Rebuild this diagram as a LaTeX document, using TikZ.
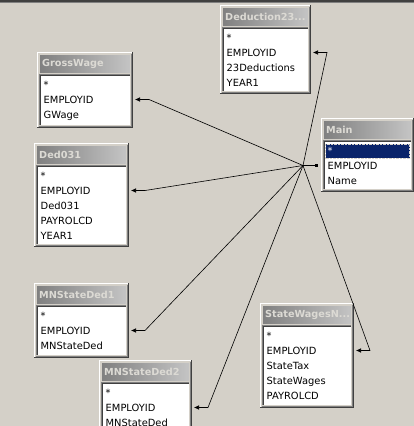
\documentclass[tikz,border=0pt]{standalone}
\usepackage{fontspec}
\usepackage{tikz}
\usetikzlibrary{arrows.meta, calc}
\newfontfamily\dbfont{DejaVu Sans}
\definecolor{canvas}{HTML}{D4D0C8}
\definecolor{windark}{HTML}{404040}
\definecolor{winmid}{HTML}{808080}
\definecolor{titleL}{HTML}{808080}
\definecolor{titleR}{HTML}{C4C4C4}
\definecolor{titleink}{HTML}{DCDAD4}
\definecolor{selbg}{HTML}{0A246A}
\tikzset{
  tbltitle/.style={anchor=west, inner sep=0pt, text=titleink,
    font=\dbfont\bfseries\fontsize{9.7}{11}\selectfont},
  tblrow/.style={anchor=west, inner sep=0pt, text height=7.4pt, text depth=2pt,
    font=\dbfont\fontsize{9.9}{11}\selectfont},
  joinln/.style={draw=black, line width=0.6pt},
  joinarr/.style={joinln, -{Latex[length=5pt, width=4.6pt]}},
  joinsq/.style={joinln, -{Square[length=2.6pt, width=2.6pt]}}
}
% table: id, x, y, width, height, title, fields, selected row
\newcommand{\dbtable}[8]{%
  \begin{scope}[shift={(#2,#3)}]
    \fill[canvas] (0,0) rectangle (#4,#5);
    \draw[white] (0.5,#5-0.5) -- (0.5,0.5) -- (#4-0.5,0.5);
    \draw[winmid] (1.5,#5-1.5) -- (#4-1.5,#5-1.5) -- (#4-1.5,1.5);
    \draw[windark] (0,#5-0.5) -- (#4-0.5,#5-0.5) -- (#4-0.5,0);
    \shade[left color=titleL, right color=titleR] (3,3) rectangle (#4-3,20);
    \node[tbltitle] (#1) at (5,11.5) {#6};
    \fill[white] (2,22) rectangle (#4-3,#5-3);
    \draw[winmid] (2.5,#5-3) -- (2.5,22.5) -- (#4-3,22.5);
    \draw[windark] (3.5,#5-3) -- (3.5,23.5) -- (#4-3,23.5);
    \ifnum#8>0
      \fill[selbg] (4.5,18+15*#8-7) rectangle (#4-4.5,18+15*#8+7);
      \draw[densely dotted, canvas] (4.5,18+15*#8-7) rectangle (#4-4.5,18+15*#8+7);
    \fi
    \foreach \r [count=\i] in {#7} {
      \coordinate (#1-\i-l) at (0,17.5+15*\i);
      \coordinate (#1-\i-r) at (#4,17.5+15*\i);
      \ifnum\i=#8\relax \def\rowink{white}\else \def\rowink{black}\fi
      \node[tblrow, text=\rowink] (#1-\i) at (6.5,18.5+15*\i) {\r};
    }
  \end{scope}}

\begin{document}
\begin{tikzpicture}[x=1pt, y=-1pt]
\useasboundingbox (0,0) rectangle (414,426);
\clip (0,0) rectangle (414,426);
\fill[canvas] (0,0) rectangle (414,426);
\fill[windark] (0,0) rectangle (414,1.5);
\fill[winmid] (0,1.5) rectangle (414,3);

% tables
\dbtable{dd}{220}{5}{91}{89}{Deduction23...}{*, EMPLOYID, 23Deductions, YEAR1}{0}
\dbtable{gw}{37}{52}{96}{76}{GrossWage}{*, EMPLOYID, GWage}{0}
\dbtable{mn}{321}{118}{93}{74}{Main}{*, EMPLOYID, Name}{1}
\dbtable{dc}{34}{143}{95}{104}{Ded031}{*, EMPLOYID, Ded031, PAYROLCD, YEAR1}{0}
\dbtable{ma}{34}{283}{95}{75}{MNStateDed1}{*, EMPLOYID, MNStateDed}{0}
\dbtable{sw}{260}{303}{94}{105}{StateWagesN...}{*, EMPLOYID, StateTax, StateWages, PAYROLCD}{0}
\dbtable{mb}{99}{360}{93}{80}{MNStateDed2}{*, EMPLOYID, MNStateDed}{0}

% joins on EMPLOYID
\coordinate (hub) at ($(mn-2-l)+(-18,0)$);
\draw[joinsq] (hub) -- ($(mn-2-l)+(-3,0)$);
\foreach \t in {dd, gw, dc, ma, sw, mb}
  \draw[joinarr] (hub) -- ($(\t-2-r)+(16,0)$) -- ($(\t-2-r)+(2,0)$);
\end{tikzpicture}
\end{document}
